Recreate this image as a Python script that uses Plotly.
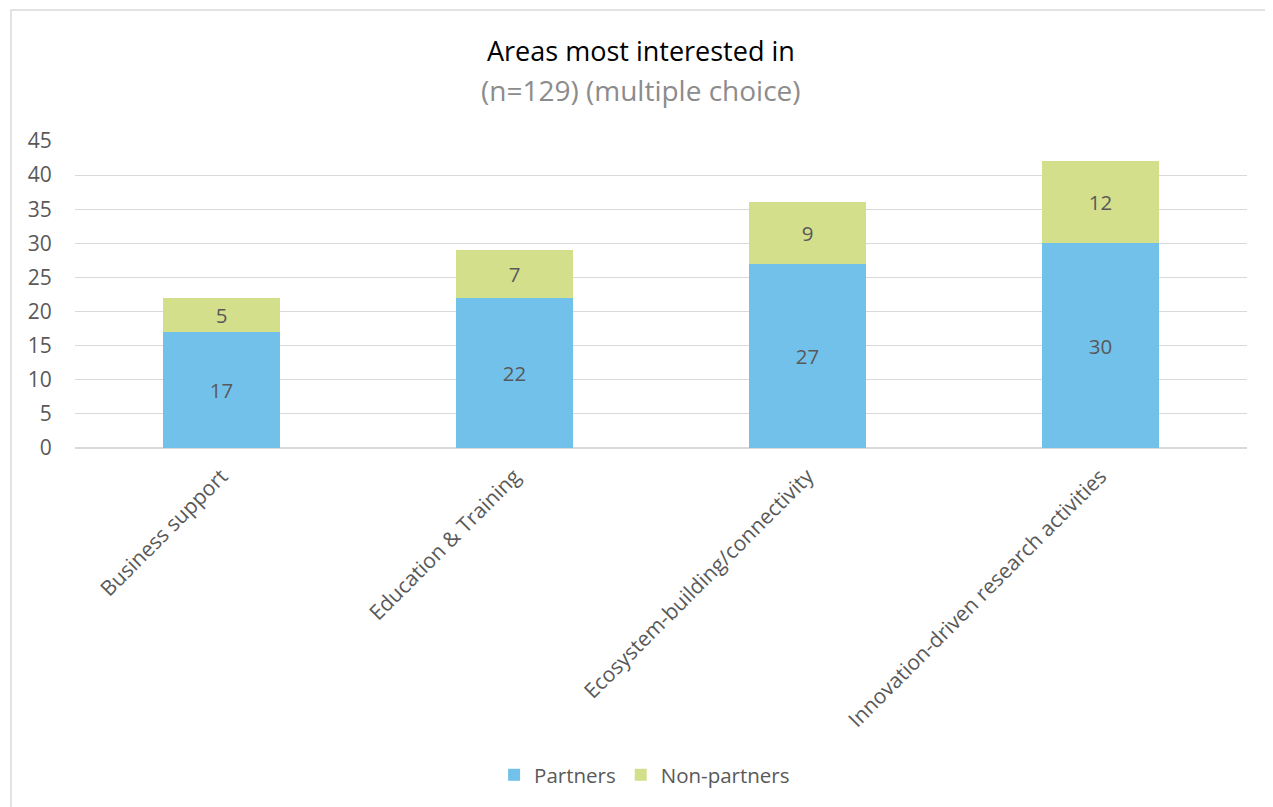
import plotly.graph_objects as go

categories = ["Business support", "Education & Training", "Ecosystem-building/connectivity", "Innovation-driven research activities"]
partners = [17, 22, 27, 30]
non_partners = [5, 7, 9, 12]
y_ticks = [0, 5, 10, 15, 20, 25, 30, 35, 40, 45]

FONT = "Open Sans"
# page body has an 8px margin; figure origin sits at (8, 8)
W, H = 1265, 799
L, T, PW, PH = 67, 133, 1172, 307

fig = go.Figure()
fig.add_trace(go.Bar(name="Partners", x=categories, y=partners, marker_color="#72C1EB",
                     marker_line_width=0,
                     text=partners, textposition="inside", insidetextanchor="middle",
                     textfont=dict(color="#595959", size=20.5, family=FONT), width=0.4))
fig.add_trace(go.Bar(name="Non-partners", x=categories, y=non_partners, marker_color="#D4DF8C",
                     marker_line_width=0,
                     text=non_partners, textposition="inside", insidetextanchor="middle",
                     textfont=dict(color="#595959", size=20.5, family=FONT), width=0.4))

fig.update_layout(
    barmode="stack",
    width=W, height=H,
    margin=dict(l=L, r=W - L - PW, t=T, b=H - T - PH, autoexpand=False),
    paper_bgcolor="white", plot_bgcolor="white",
    font=dict(family=FONT, color="#595959", size=20),
    showlegend=True,
    legend=dict(orientation="h", x=0.486, xanchor="center", y=-1.065, yanchor="middle",
                font=dict(size=20.5, color="#595959"), traceorder="normal"),
)
fig.update_yaxes(range=[0, 45], tickvals=y_ticks, showgrid=True, gridcolor="#D9D9D9", gridwidth=1,
                 zeroline=True, zerolinecolor="#D9D9D9", showline=False,
                 ticks="outside", ticklen=18, tickcolor="rgba(0,0,0,0)",
                 tickfont=dict(size=21, color="#595959"))
fig.update_xaxes(tickangle=-45, showline=False, ticks="", tickfont=dict(size=21, color="#595959"),
                 ticklabelstandoff=11)

fig.add_annotation(text="Areas most interested in", xref="paper", yref="paper", x=0.483, y=1.296,
                   xanchor="center", yanchor="middle",
                   showarrow=False, font=dict(size=27, color="#000000", family=FONT))
fig.add_annotation(text="(n=129) (multiple choice)", xref="paper", yref="paper", x=0.483, y=1.166,
                   xanchor="center", yanchor="middle",
                   showarrow=False, font=dict(size=28, color="#8C8C8C", family=FONT))
fig.add_shape(type="rect", xref="paper", yref="paper", x0=-0.0546, x1=1.2, y0=-1.3, y1=1.4267,
              line=dict(color="#D9D9D9", width=1.5), fillcolor="rgba(0,0,0,0)", layer="below")

fig.write_html("out.html")
